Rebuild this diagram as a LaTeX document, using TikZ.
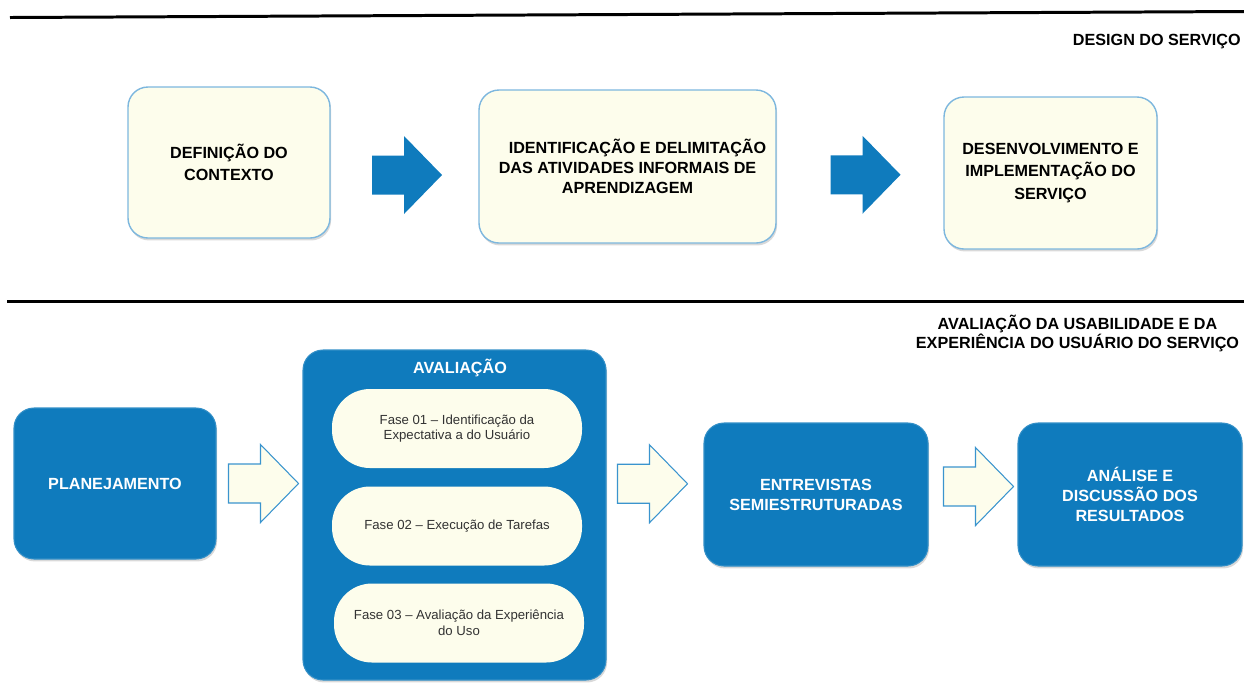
\documentclass[tikz,border=0pt]{standalone}
\usepackage{fontspec}
\setmainfont{Liberation Sans}
\usepackage{xcolor}
\usetikzlibrary{shapes,positioning,calc,shadows}

\definecolor{azul}{HTML}{0F7BBD}
\definecolor{creme}{HTML}{FDFDEC}
\definecolor{bordaclara}{HTML}{7DB7DE}
\definecolor{bordaseta}{HTML}{3A94CE}

\begin{document}
\begin{tikzpicture}[
  sombra/.style={drop shadow={opacity=0.3,shadow xshift=0.6pt,shadow yshift=-1.4pt}},
  caixaclara/.style={rectangle,rounded corners=0.4cm,draw=bordaclara,line width=0.8pt,fill=creme,
    align=center,font=\bfseries\fontsize{9.2}{11.4}\selectfont,sombra},
  caixaazul/.style={rectangle,rounded corners=0.4cm,draw=azul!85!white,line width=0.6pt,fill=azul,
    text=white,align=center,font=\bfseries\fontsize{9.2}{11.4}\selectfont,sombra},
  fase/.style={rectangle,rounded corners=0.76cm,fill=creme,minimum width=5cm,minimum height=1.58cm,
    align=center,text=black!80,font=\fontsize{7.5}{8.9}\selectfont},
  titulo/.style={font=\bfseries\fontsize{9.2}{11}\selectfont,align=center,inner sep=0pt},
  setacheia/.style={fill=azul},
  setavazia/.style={fill=creme,draw=bordaseta,line width=0.6pt},
  seta/.pic={\path[pic actions] (-0.7,-0.39) -- (-0.06,-0.39) -- (-0.06,-0.78) -- (0.7,0)
    -- (-0.06,0.78) -- (-0.06,0.39) -- (-0.7,0.39) -- cycle;}
]
\useasboundingbox (0,0) rectangle (24.88,-13.9);

% Design do servico
\draw[line width=1.7pt] (0.2,-0.35) -- (24.88,-0.23);
\node[titulo,anchor=east] (tdesign) at (24.82,-0.84) {DESIGN DO SERVIÇO};

\node[caixaclara,minimum width=4.04cm,minimum height=3.02cm] (def) at (4.58,-3.25)
  {\raisebox{-0.08cm}{\shortstack{DEFINIÇÃO DO\\[0.05cm]CONTEXTO}}};
\node[caixaclara,minimum width=5.94cm,minimum height=3.06cm] (ident) at (12.55,-3.33)
  {\hspace{0.4cm}IDENTIFICAÇÃO E DELIMITAÇÃO\\DAS ATIVIDADES INFORMAIS DE\\APRENDIZAGEM};
\node[caixaclara,minimum width=4.26cm,minimum height=3.04cm] (desenv) at (21.01,-3.46)
  {\raisebox{-0.16cm}{\shortstack{DESENVOLVIMENTO E\\[0.05cm]IMPLEMENTAÇÃO DO\\[0.05cm]SERVIÇO}}};
\pic[setacheia] at ($(def.east)!0.5!(ident.west)+(0.05,-0.21)$) {seta};
\pic[setacheia] at ($(ident.east)!0.5!(desenv.west)+(0.11,-0.1)$) {seta};

% Avaliacao da usabilidade
\draw[line width=1.7pt] (0.14,-6.02) -- (24.88,-6.02);
\node[titulo] (taval) at (21.55,-6.67) {AVALIAÇÃO DA USABILIDADE E DA\\EXPERIÊNCIA DO USUÁRIO DO SERVIÇO};

\node[caixaazul,minimum width=4.04cm,minimum height=3.02cm] (plan) at (2.3,-9.67) {PLANEJAMENTO};
\node[caixaazul,minimum width=6.06cm,minimum height=6.6cm] (aval) at (9.09,-10.3) {};
\node[text=white,font=\bfseries\fontsize{9.2}{11}\selectfont] (tfase) at (9.2,-7.36) {AVALIAÇÃO};
\node[fase] (fase1) at (9.14,-8.57) {Fase 01 – Identificação da\\Expectativa a do Usuário};
\node[fase] (fase2) at (9.14,-10.52) {Fase 02 – Execução de Tarefas};
\node[fase] (fase3) at (9.18,-12.46) {Fase 03 – Avaliação da Experiência\\do Uso};
\node[caixaazul,minimum width=4.48cm,minimum height=2.86cm] (entr) at (16.32,-9.89)
  {ENTREVISTAS\\SEMIESTRUTURADAS};
\node[caixaazul,minimum width=4.48cm,minimum height=2.86cm] (anal) at (22.6,-9.89)
  {ANÁLISE E\\DISCUSSÃO DOS\\RESULTADOS};
\pic[setavazia] at ($(plan.east)!0.5!(aval.west |- plan.east)+(0.08,0)$) {seta};
\pic[setavazia] at ($(aval.east)!0.5!(entr.west)+(-0.05,0.42)$) {seta};
\pic[setavazia] at ($(entr.east)!0.5!(anal.west)+(0.11,0.16)$) {seta};
\end{tikzpicture}
\end{document}
